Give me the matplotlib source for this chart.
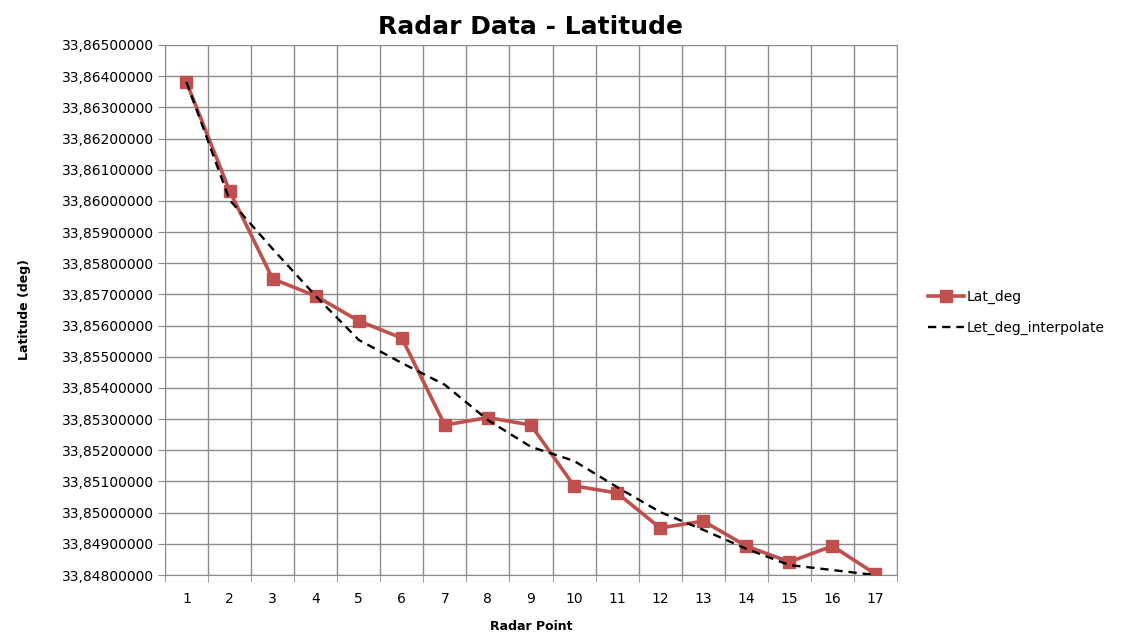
import matplotlib
matplotlib.use("Agg")
import matplotlib.pyplot as plt
from matplotlib.ticker import FuncFormatter, MultipleLocator

# data
points = list(range(1, 18))
lat_deg = [33.86381, 33.86032, 33.85750, 33.85695, 33.85615, 33.85560, 33.85281,
           33.85305, 33.85281, 33.85086, 33.85063, 33.84951, 33.84973, 33.84893,
           33.84842, 33.84893, 33.84803]
lat_interp = [33.86381, 33.86003, 33.85846, 33.85695, 33.85554, 33.85480, 33.85410,
              33.85297, 33.85211, 33.85166, 33.85082, 33.85002, 33.84945, 33.84884,
              33.84832, 33.84816, 33.84800]

plt.rcParams['font.family'] = ['DejaVu Sans']

fig = plt.figure(figsize=(11.33, 6.37), dpi=100)
ax = fig.add_axes([0.1456, 0.0973, 0.6461, 0.8321])

l1, = ax.plot(points, lat_deg, color='#C0504D', lw=2.6, marker='s', ms=8,
              label='Lat_deg', zorder=3)
l2, = ax.plot(points, lat_interp, color='black', lw=1.7, ls=(0, (3.5, 2.5)),
              label='Let_deg_interpolate', zorder=4)

ax.set_xlim(0.5, 17.5)
ax.set_ylim(33.848, 33.865)
ax.yaxis.set_major_locator(MultipleLocator(0.001))
ax.yaxis.set_major_formatter(FuncFormatter(lambda v, p: f"{v:.8f}".replace('.', ',')))
ax.set_xticks(points)
ax.set_xticks([p - 0.5 for p in points] + [17.5], minor=True)
ax.tick_params(axis='x', which='major', length=0, pad=12, labelsize=10)
ax.tick_params(axis='x', which='minor', length=5, color='#8c8c8c')
ax.tick_params(axis='y', length=5, color='#8c8c8c', labelsize=10, pad=3)

ax.grid(True, axis='y', which='major', color='#8c8c8c', lw=1)
ax.grid(True, axis='x', which='minor', color='#8c8c8c', lw=1)
ax.spines['top'].set_visible(False)
for s in ['left', 'bottom', 'right']:
    ax.spines[s].set_color('#8c8c8c')

ax.set_title('Radar Data - Latitude', fontsize=18, fontweight='bold', pad=8)
ax.set_xlabel('Radar Point', fontsize=9, fontweight='bold', labelpad=10)
ax.set_ylabel('Latitude (deg)', fontsize=9, fontweight='bold', labelpad=22)

fig.legend(handles=[l1, l2], loc='center left', bbox_to_anchor=(0.808, 0.51),
           frameon=False, fontsize=10, handlelength=2.6, labelspacing=1.2,
           handletextpad=0.2)

fig.savefig('out.png', dpi=100)
